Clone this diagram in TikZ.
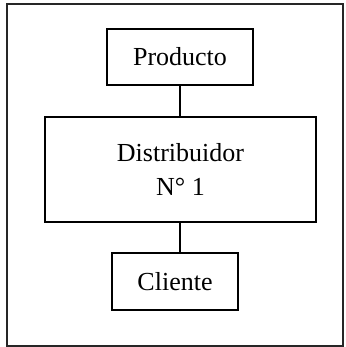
\documentclass[tikz,border=0pt]{standalone}
\usepackage{fontspec}
\setmainfont{Liberation Serif}
\begin{document}
\begin{tikzpicture}[x=1pt,y=-1pt,
  box/.style={draw, line width=2pt, inner sep=0pt, align=center,
    font=\fontsize{26}{34}\selectfont},
  link/.style={line width=2pt}]
\useasboundingbox (0,0) rectangle (345,347);
% outer frame
\draw[line width=2pt, black!85] (7,4) rectangle (343,346);
% boxes
\node[box, minimum width=146pt, minimum height=56pt] (prod) at (180,57) {Producto};
\node[box, minimum width=271pt, minimum height=105pt] (dist) at (180.5,169.5) {Distribuidor\\N° 1};
\node[box, minimum width=126pt, minimum height=57pt] (cli) at (175,281.5) {Cliente};
% connectors
\draw[link] (prod.south -| 180,0) -- (dist.north -| 180,0);
\draw[link] (dist.south -| 180,0) -- (cli.north -| 180,0);
\end{tikzpicture}
\end{document}
